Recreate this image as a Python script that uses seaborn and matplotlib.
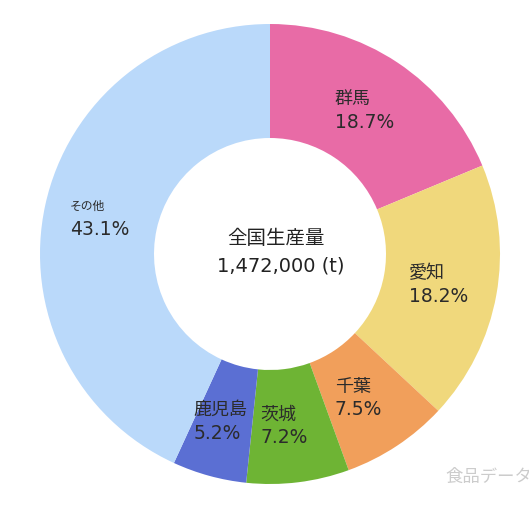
import matplotlib
matplotlib.use("Agg")
import matplotlib.pyplot as plt
import seaborn as sns
import numpy as np

names = ["群馬", "愛知", "千葉", "茨城", "鹿児島", "その他"]
shares = [18.7, 18.2, 7.5, 7.2, 5.2, 43.1]
colors = ["#E86BA6", "#F0D87C", "#F19F5B", "#6EB434", "#5B6FD3", "#BAD9FA"]
center_title = "全国生産量"
center_value = "1,472,000 (t)"
watermark = "食品データ館"

sns.set_theme(style="white")
plt.rcParams['font.family'] = ['DejaVu Sans', 'Noto Sans CJK JP']

W, H = 529, 508
fig = plt.figure(figsize=(W / 100, H / 100), dpi=100)
ax = fig.add_axes([0, 0, 1, 1])
ax.set_xlim(0, W)
ax.set_ylim(0, H)
ax.set_aspect("equal")
ax.axis("off")

cx, cy = 270, H - 254
R, r = 230, 116
pal = sns.color_palette(colors)
wedges, _ = ax.pie(shares, colors=pal, startangle=90, counterclock=False,
                   center=(cx, cy), radius=R, frame=True,
                   wedgeprops=dict(width=R - r, linewidth=0))
ax.set_xlim(0, W)
ax.set_ylim(0, H)
ax.axis("off")

txtc = "#2b2b2b"
rm = (R + r) / 2
cum = np.cumsum([0] + shares[:-1])
for name, s, c0 in zip(names, shares, cum):
    ang = np.deg2rad((c0 + s / 2) / 100 * 360)
    x = cx + rm * np.sin(ang)
    y = cy + rm * np.cos(ang)
    nfs = 8.5 if name == "その他" else 13
    ax.text(x - 31, y + 11, name, fontsize=nfs, color=txtc, ha="left", va="center")
    ax.text(x - 31, y - 12, f"{s}%", fontsize=13.5, color=txtc, ha="left", va="center")

ax.text(276, H - 238, center_title, fontsize=14, color="#222222", ha="center", va="center")
ax.text(281, H - 266, center_value, fontsize=14, color="#222222", ha="center", va="center")

ax.text(445, H - 477, watermark, fontsize=12.5, color="#cccccc", ha="left", va="center")

fig.savefig("out.png", dpi=100, facecolor="white")
